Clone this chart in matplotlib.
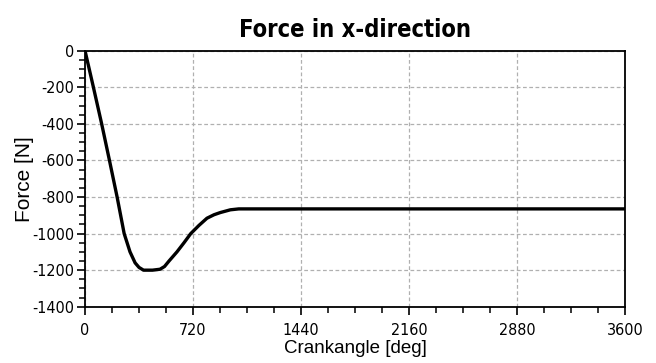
import numpy as np
import matplotlib
matplotlib.use("Agg")
import matplotlib.pyplot as plt
from matplotlib.ticker import MultipleLocator

# crank angle [deg] and force [N]
crankangle = [0, 56, 111, 163, 214, 261, 300, 334, 360, 390, 450, 500,
              530, 560, 613, 660, 705, 760, 813, 860, 902, 969, 1025, 3600]
force = [0, -200, -400, -600, -800, -1000, -1100, -1160, -1185, -1200, -1200, -1195,
         -1180, -1150, -1100, -1050, -1000, -955, -916, -897, -885, -870, -865, -865]

xticks = [0, 720, 1440, 2160, 2880, 3600]
yticks = [0, -200, -400, -600, -800, -1000, -1200, -1400]

plt.rcParams['font.family'] = ['DejaVu Sans']
plt.rcParams['font.stretch'] = 'condensed'
plt.rcParams['axes.unicode_minus'] = False

fig = plt.figure(figsize=(6.56, 3.63), dpi=100)
ax = fig.add_axes([0.1296, 0.155, 0.8231, 0.7053])

ax.plot(crankangle, force, color='black', lw=2.4, solid_joinstyle='round')

ax.set_xlim(0, 3600)
ax.set_ylim(-1400, 0)
ax.set_xticks(xticks)
ax.set_yticks(yticks)
ax.xaxis.set_minor_locator(MultipleLocator(180))
ax.yaxis.set_minor_locator(MultipleLocator(50))
ax.tick_params(axis='both', which='major', direction='out', length=6, width=1.2,
               labelsize=11.5, color='black')
ax.tick_params(axis='both', which='minor', direction='out', length=4, width=1.1)
ax.tick_params(axis='x', pad=6)
ax.tick_params(axis='y', pad=2)

ax.grid(True, which='major', linestyle=(0, (3, 2)), color='#b0b0b0', lw=0.9)
for s in ax.spines.values():
    s.set_linewidth(1.3)

ax.set_title("Force in x-direction", fontsize=17, fontweight='bold', pad=10)
ax.set_xlabel("Crankangle [deg]", fontsize=13.5, family=['Liberation Sans', 'DejaVu Sans'],
              stretch='normal', labelpad=1)
ax.set_ylabel("Force [N]", fontsize=15, family=['Liberation Sans', 'DejaVu Sans'],
              stretch='normal', labelpad=0)
ax.yaxis.set_label_coords(-0.095, 0.5)

fig.savefig("out.png", dpi=100)
